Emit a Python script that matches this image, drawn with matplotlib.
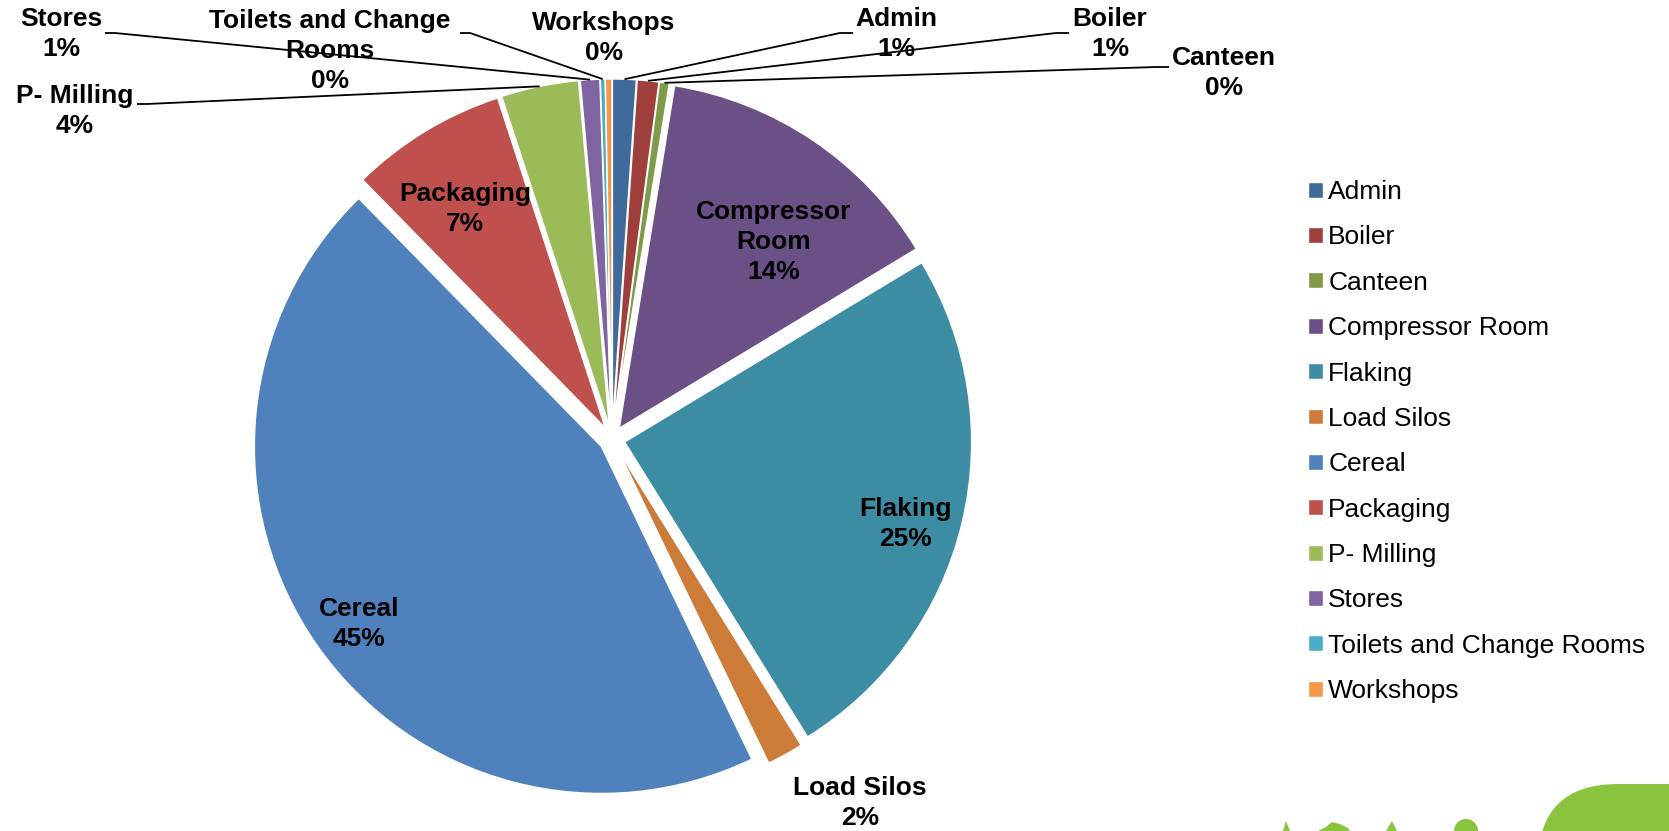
import math
import matplotlib
matplotlib.use("Agg")
import matplotlib.pyplot as plt
from matplotlib.patches import FancyBboxPatch, Polygon, Wedge

# electricity use by area, % of site total
categories = ["Admin", "Boiler", "Canteen", "Compressor Room", "Flaking", "Load Silos",
              "Cereal", "Packaging", "P- Milling", "Stores",
              "Toilets and Change Rooms", "Workshops"]
shares = [1.1, 1.0, 0.45, 13.8, 24.8, 1.7, 44.8, 7.3, 3.6, 0.9, 0.22, 0.3]
colors = ["#3F6A9B", "#9F3F3C", "#7F9A48", "#6A5087", "#3C8DA3", "#CD7B38",
          "#4F81BD", "#C0504D", "#9BBB59", "#8064A2", "#4BACC6", "#F79646"]

W, H = 1669, 831
plt.rcParams['font.family'] = ['Liberation Sans', 'DejaVu Sans']

fig = plt.figure(figsize=(W / 100, H / 100), dpi=100)
ax = fig.add_axes([0, 0, 1, 1])

cx, cy, R, gap = 612, H - 439, 347, 13
wedges, _ = ax.pie(shares, colors=colors, startangle=90, counterclock=False,
                   center=(cx, cy), radius=R, explode=[gap] * len(shares),
                   wedgeprops=dict(edgecolor='white', linewidth=1.0))
ax.set_xlim(0, W)
ax.set_ylim(0, H)
ax.axis('off')

total = sum(shares)
pct = ["%.0f%%" % (v / total * 100) for v in shares]

# labels inside the big slices (pixel positions, y from top)
inside = {
    "Compressor Room": (774, 242, "Compressor\nRoom"),
    "Flaking": (905, 524, "Flaking"),
    "Cereal": (359, 624, "Cereal"),
    "Packaging": (465, 209, "Packaging"),
}
# outside labels: text centre, leader start, stub end
outside = {
    "Stores": ((61, 34), (105, 33), (115, 33), "Stores"),
    "Toilets and Change Rooms": ((330, 51), (460, 33), (470, 33), "Toilets and Change\nRooms"),
    "Workshops": ((604, 38), None, None, "Workshops"),
    "Admin": ((896, 34), (853, 33), (840, 33), "Admin"),
    "Boiler": ((1110, 34), (1069, 33), (1056, 33), "Boiler"),
    "Canteen": ((1224, 73), (1169, 67), (1156, 67), "Canteen"),
    "P- Milling": ((75, 111), (137, 104), (147, 104), "P- Milling"),
    "Load Silos": ((860, 803), None, None, "Load Silos"),
}

lab_kw = dict(ha='center', va='center', fontsize=19, fontweight='bold',
              color='black', linespacing=1.32)

for i, name in enumerate(categories):
    if name in inside:
        x, y, txt = inside[name]
        ax.text(x, H - y, txt + "\n" + pct[i], **lab_kw)
    elif name in outside:
        (x, y), p0, p1, txt = outside[name]
        ax.text(x, H - y, txt + "\n" + pct[i], **lab_kw)
        if p0 is not None:
            w = wedges[i]
            a = math.radians((w.theta1 + w.theta2) / 2)
            ex = w.center[0] + w.r * math.cos(a)
            ey = w.center[1] + w.r * math.sin(a)
            ax.plot([p0[0], p1[0], ex], [H - p0[1], H - p1[1], ey],
                    color='black', lw=1.3, solid_capstyle='butt')

ax.legend(wedges, categories, loc='upper left',
          bbox_to_anchor=(1308 / W, 1 - 180 / H), bbox_transform=fig.transFigure,
          frameon=False, fontsize=19, handlelength=0.55, handleheight=0.55,
          handletextpad=0.22, labelspacing=0.81, borderpad=0, borderaxespad=0)

# green logo pieces in the bottom corner
green = "#8AC43F"
ax.add_patch(FancyBboxPatch((1538, -300), 400, H - 784 + 300,
                            boxstyle="round,pad=0,rounding_size=80",
                            facecolor=green, edgecolor='none'))
for pts in ([(1283, 0), (1286, 10), (1290, 0)],
            [(1318, 0), (1326, 4), (1332, 9), (1340, 7), (1348, 3), (1350, 0)],
            [(1386, 0), (1392, 10), (1397, 0)]):
    ax.add_patch(Polygon(pts, closed=True, facecolor=green, edgecolor='none'))
ax.add_patch(Wedge((1466, 0), 12, 0, 180, facecolor=green, edgecolor='none'))

fig.savefig("out.png", dpi=100)
